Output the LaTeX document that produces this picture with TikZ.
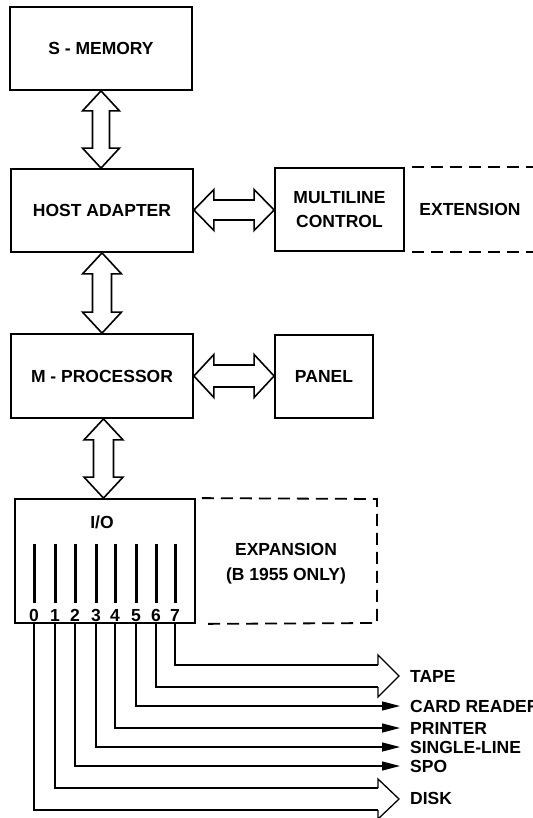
\documentclass[tikz,border=0pt]{standalone}
\usepackage{fontspec}
\setmainfont{Liberation Sans}
\usetikzlibrary{calc,arrows.meta}

% vertical fat double arrow: #1 top point, #2 bottom point, #3 shaft half width, #4 head half width, #5 head length
\newcommand\vfat[5]{%
  \draw[fat] let \p1=#1, \p2=#2 in
    (\x1,\y1) -- (\x1+#4,\y1-#5) -- (\x1+#3,\y1-#5) -- (\x1+#3,\y2+#5) -- (\x1+#4,\y2+#5)
    -- (\x1,\y2) -- (\x1-#4,\y2+#5) -- (\x1-#3,\y2+#5) -- (\x1-#3,\y1-#5) -- (\x1-#4,\y1-#5) -- cycle;}
% horizontal fat double arrow: #1 left point, #2 right point
\newcommand\hfat[5]{%
  \draw[fat] let \p1=#1, \p2=#2 in
    (\x1,\y1) -- (\x1+#5,\y1+#4) -- (\x1+#5,\y1+#3) -- (\x2-#5,\y1+#3) -- (\x2-#5,\y1+#4)
    -- (\x2,\y1) -- (\x2-#5,\y1-#4) -- (\x2-#5,\y1-#3) -- (\x1+#5,\y1-#3) -- (\x1+#5,\y1-#4) -- cycle;}

\begin{document}
\begin{tikzpicture}[x=1pt,y=-1pt,
  lbl/.style={font=\fontsize{17.5}{24}\selectfont\bfseries, inner sep=0pt},
  box/.style={draw, line width=1.8pt, lbl, align=center},
  fat/.style={draw, line width=1.6pt, fill=white, line join=miter},
  wire/.style={line width=1.3pt},
  dashline/.style={line width=1.8pt, dash pattern=on 12pt off 7pt},
  bar/.style={line width=3pt},
  tip/.style={-{Triangle[length=18pt,width=9pt]}}]
\fill[white] (0,0) rectangle (532,818);
\useasboundingbox (0,0) rectangle (532,818);

% main blocks
\node[box, minimum width=182pt, minimum height=83pt] (smem)  at (101,48.5)  {S - MEMORY};
\node[box, minimum width=182pt, minimum height=83pt] (host)  at (102,210.5) {HOST ADAPTER};
\node[box, minimum width=129pt, minimum height=83pt, font=\fontsize{17.5}{24}\selectfont\bfseries]
     (mlc)   at (339.5,209.5) {MULTILINE\\CONTROL};
\node[box, minimum width=182pt, minimum height=84pt] (mproc) at (102,376)   {M - PROCESSOR};
\node[box, minimum width=98pt,  minimum height=83pt] (panel) at (324,376.5) {PANEL};
\node[box, minimum width=180pt, minimum height=124pt] (io)   at (105,561)   {};
\node[lbl] (iolbl) at (102,522) {I/O};

% extension area
\draw[dashline] ([xshift=7pt]mlc.north east) -- ++(150,0);
\draw[dashline] ([xshift=7pt]mlc.south east) -- ++(150,0);
\node[lbl] (exttext) at (470,209) {EXTENSION};

% expansion area
\coordinate (expne) at (377,499);
\coordinate (expse) at (377,623);
\draw[dashline] ([xshift=6pt]io.north east) -- (expne) -- (expse) -- ([xshift=6pt]io.south east);
\node[lbl, align=center, font=\fontsize{17.5}{25}\selectfont\bfseries] (exptext) at (286,563.5) {EXPANSION\\(B 1955 ONLY)};

% bus arrows
\vfat{(smem.south)}{(smem.south |- host.north)}{8.5pt}{18.5pt}{20pt}
\vfat{(host.south)}{(host.south |- mproc.north)}{9.5pt}{19.5pt}{21pt}
\vfat{([xshift=1.5pt]mproc.south)}{([xshift=1.5pt]mproc.south |- io.north)}{10pt}{19.5pt}{21pt}
\hfat{([yshift=0.5pt]host.east)}{([yshift=0.5pt]host.east -| mlc.west)}{10pt}{20.5pt}{20pt}
\hfat{(mproc.east)}{(mproc.east -| panel.west)}{11pt}{21.5pt}{20pt}

% channel bars and numbers
\foreach \i/\x in {0/34,1/55,2/75,3/96,4/115,5/136,6/156,7/175}{
  \draw[bar] (\x,544) -- (\x,603);
  \node[lbl, anchor=base] (d\i) at (\x,621) {\i};
}

% peripheral labels
\node[lbl, anchor=west] (tape)   at (410,676) {TAPE};
\node[lbl, anchor=west] (card)   at (410,706) {CARD READER};
\node[lbl, anchor=west] (prn)    at (410,728) {PRINTER};
\node[lbl, anchor=west] (single) at (410,747) {SINGLE-LINE};
\node[lbl, anchor=west] (spo)    at (410,766) {SPO};
\node[lbl, anchor=west] (disk)   at (410,798) {DISK};

% channel wires with single arrows
\draw[wire,tip] (d5 |- io.south) |- ([xshift=-10pt]card.west);
\draw[wire,tip] (d4 |- io.south) |- ([xshift=-10pt]prn.west);
\draw[wire,tip] (d3 |- io.south) |- ([xshift=-10pt]single.west);
\draw[wire,tip] (d2 |- io.south) |- ([xshift=-10pt]spo.west);

% paired channels into open heads
\coordinate (tapeh) at (378,676);
\coordinate (diskh) at (378,799);
\draw[wire] (d7 |- io.south) |- ([yshift=11pt]tapeh);
\draw[wire] (d6 |- io.south) |- ([yshift=-11pt]tapeh);
\draw[wire, line join=miter] ([yshift=11pt]tapeh) -- ([yshift=21pt]tapeh) -- ([xshift=21pt]tapeh)
  -- ([yshift=-21pt]tapeh) -- ([yshift=-11pt]tapeh);
\draw[wire] (d1 |- io.south) |- ([yshift=11pt]diskh);
\draw[wire] (d0 |- io.south) |- ([yshift=-11pt]diskh);
\draw[wire, line join=miter] ([yshift=11pt]diskh) -- ([yshift=20pt]diskh) -- ([xshift=21pt]diskh)
  -- ([yshift=-20pt]diskh) -- ([yshift=-11pt]diskh);
\end{tikzpicture}
\end{document}
